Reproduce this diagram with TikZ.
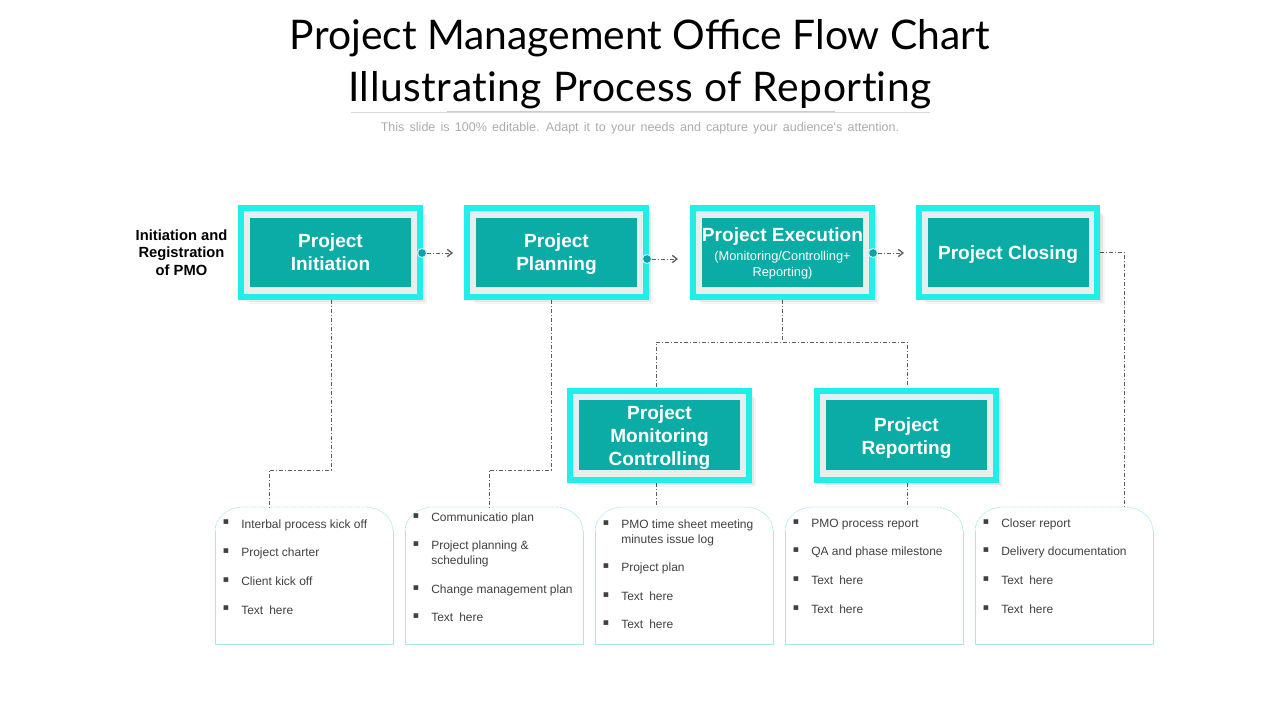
\documentclass[tikz,border=0pt]{standalone}
\usepackage{fontspec}
\setmainfont{Liberation Sans}
\newfontfamily\titlefont{Lato}
\newfontfamily\titlewide[LetterSpace=1.3]{Lato}
\newfontfamily\subfont[WordSpace=1.5]{Liberation Sans}
\newfontfamily\symfont{DejaVu Sans}
\usetikzlibrary{arrows.meta,shadows}
\definecolor{framecy}{HTML}{1FEFE8}
\definecolor{tealbox}{HTML}{0BABA6}
\definecolor{ringgr}{HTML}{E6EEEE}
\definecolor{listline}{HTML}{A8E8EA}
\definecolor{connline}{HTML}{5E5E5E}
\definecolor{bodytxt}{HTML}{404040}
\definecolor{subtxt}{HTML}{ABABAB}
\definecolor{dotfill}{HTML}{12A0A4}
\definecolor{dotedge}{HTML}{BFF3F3}
\tikzset{
  frame/.style={rectangle,draw=framecy,fill=ringgr,line width=4.5pt,minimum width=133.75pt,minimum height=66.75pt,
    drop shadow={shadow xshift=5.5pt,shadow yshift=-5.5pt,fill=black,opacity=.04},
    drop shadow={shadow xshift=4pt,shadow yshift=-4pt,fill=black,opacity=.06},
    drop shadow={shadow xshift=2.5pt,shadow yshift=-2.5pt,fill=black,opacity=.06}},
  inner/.style={rectangle,fill=tealbox,minimum width=120.75pt,minimum height=52pt,inner sep=0pt},
  boxtxt/.style={text=white,inner sep=0pt,align=center,font=\fontsize{14.3}{17.2}\selectfont\bfseries},
  conn/.style={draw=connline,line width=.5pt,dash pattern=on 3pt off 1.5pt on .8pt off 1.5pt},
  flow/.style={conn,-{Straight Barb[length=3.5pt,width=5.5pt,line width=1pt]}},
  dot/.style={circle,fill=dotfill,draw=dotedge,line width=.8pt,minimum size=6.8pt,inner sep=0pt},
  listbox/.style={draw=listline,line width=.6pt},
  listtop/.style={listbox,dash pattern=on .7pt off .5pt},
  bul/.style={font=\symfont\fontsize{7}{8}\selectfont,text=bodytxt,inner sep=0pt},
  itemtxt/.style={anchor=north west,inner sep=0pt,align=left,text=bodytxt,font=\fontsize{9}{11.25}\selectfont},
}
% name, x, y, text offset, text
\newcommand{\boxnode}[5]{\node[frame] (#1f) at (#2,#3) {}; \node[inner] (#1) at (#2,#3) {}; \node[boxtxt] (#1t) at (#2,#3+#4) {#5};}
\newcommand{\listshape}[2]{%
  \draw[listbox] (#1,531) -- (#1,644) -- (#1+178,644) -- (#1+178,531);
  \draw[listtop] (#1,531) arc[start angle=180,end angle=90,x radius=21pt,y radius=18pt] -- (#1+150,507) arc[start angle=90,end angle=0,x radius=21pt,y radius=18pt];
  \coordinate (#2) at (#1,507);}
\newcommand{\litem}[4]{\node[bul] (#1b) at (#2,#3-1) {▪}; \node[itemtxt] (#1) at (#2+15,#3-6) {\strut #4};}
\newcommand{\subfnt}{\fontsize{9.6}{12}\selectfont\mdseries}
\newcommand{\txh}{Text\hspace{2pt} here}
\begin{document}
\begin{tikzpicture}[x=.75pt,y=-.75pt]
\useasboundingbox (0,0) rectangle (1280,720);
\node[font=\fontsize{30.6}{39}\selectfont,align=center,text=black] (title) at (640,64.5) {\titlefont Project Management Office Flow Chart\\\titlewide Illustrat\kern0pt ing Process of Report\kern0pt ing};
\coordinate (ruleL) at (351,112); \coordinate (ruleR) at (930,112);
\coordinate (ruleA) at (447,111.7); \coordinate (ruleB) at (835,111.7);
\draw[draw=black!15,line width=.5pt] (ruleL) -- (ruleR);
\draw[draw=black!20,line width=.9pt] (ruleA) -- (ruleB);
\node[font=\subfont\fontsize{9.4}{11}\selectfont,text=subtxt] (sub) at (640,128.5) {This slide is 100\% editable. Adapt it to your needs and capture your audience's attention.};
\node[font=\fontsize{11.05}{13.2}\selectfont\bfseries,align=center,text=black] (reg) at (181.5,252.5) {Initiation and\\Registration\\of PMO};

% connectors under the boxes
\coordinate (b1p) at (331,300); \coordinate (j1a) at (331,470); \coordinate (j1b) at (269,470); \coordinate (l1t) at (269,507);
\coordinate (b2p) at (551,300); \coordinate (j2a) at (551,470); \coordinate (j2b) at (489,470); \coordinate (l2t) at (489,507);
\coordinate (b3p) at (782,300); \coordinate (j3) at (782,342); \coordinate (j3l) at (656,342); \coordinate (j3r) at (907,342);
\coordinate (m1p) at (656,387); \coordinate (m2p) at (907,387);
\coordinate (m1b) at (656,483); \coordinate (m2b) at (907,483); \coordinate (l3t) at (656,507); \coordinate (l4t) at (907,507);
\coordinate (b4r) at (1100,252); \coordinate (j4) at (1124,252); \coordinate (l5t) at (1124,507);
\draw[conn] (b1p) -- (j1a) -- (j1b) -- (l1t);
\draw[conn] (b2p) -- (j2a) -- (j2b) -- (l2t);
\draw[conn] (b3p) -- (j3);
\draw[conn] (m1p) -- (j3l) -- (j3r) -- (m2p);
\draw[conn] (m1b) -- (l3t);
\draw[conn] (m2b) -- (l4t);
\draw[conn] (b4r) -- (j4) -- (l5t);

\boxnode{b1}{330.5}{252.5}{0}{Project\\Initiation}
\boxnode{b2}{556.5}{252.5}{2}{Project\\Planning}
\boxnode{b3}{782.5}{252.5}{1}{Project Execution\\[-3pt]\subfnt (Monitoring/Controlling+\\[-5.2pt]\subfnt Reporting)}
\boxnode{b4}{1008}{252.5}{2}{Project Closing}
\boxnode{m1}{659.5}{435}{2.5}{Project\\Monitoring\\Controlling}
\boxnode{m2}{906.5}{435}{3}{Project\\Reporting}

% arrows between the boxes
\node[dot] (d1) at (422,253) {}; \coordinate (a1) at (453,253);
\node[dot] (d2) at (647,259) {}; \coordinate (a2) at (678,259);
\node[dot] (d3) at (873,253) {}; \coordinate (a3) at (904,253);
\draw[flow] (d1) -- (a1);
\draw[flow] (d2) -- (a2);
\draw[flow] (d3) -- (a3);

\listshape{215}{l1}
\listshape{405}{l2}
\listshape{595}{l3}
\listshape{785}{l4}
\listshape{975}{l5}

\litem{i11}{226}{523.5}{Interbal process kick off}
\litem{i12}{226}{552}{Project charter}
\litem{i13}{226}{581}{Client kick off}
\litem{i14}{226}{609.5}{\txh}

\litem{i21}{416}{517}{Communicatio plan}
\litem{i22}{416}{545}{Project planning \&\\scheduling}
\litem{i23}{416}{589}{Change management plan}
\litem{i24}{416}{617}{\txh}

\litem{i31}{606}{524}{PMO time sheet meeting\\minutes issue log}
\litem{i32}{606}{567}{Project plan}
\litem{i33}{606}{596}{\txh}
\litem{i34}{606}{624}{\txh}

\litem{i41}{796}{523}{PMO process report}
\litem{i42}{796}{551}{QA and phase milestone}
\litem{i43}{796}{580}{\txh}
\litem{i44}{796}{609}{\txh}

\litem{i51}{986}{523}{Closer report}
\litem{i52}{986}{551}{Delivery documentation}
\litem{i53}{986}{580}{\txh}
\litem{i54}{986}{609}{\txh}
\end{tikzpicture}
\end{document}
